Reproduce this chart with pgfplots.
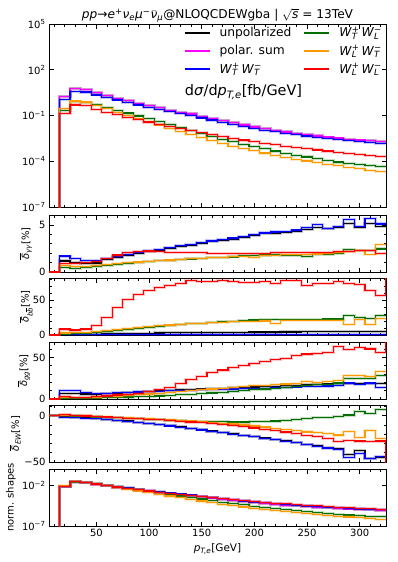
\documentclass[border=0pt]{standalone}
\usepackage{fontspec}
\setmainfont{DejaVu Sans}
\usepackage{pgfplots}
\pgfplotsset{compat=1.18}
\usepackage{pgfplotstable}

\definecolor{cU}{RGB}{0,0,0}
\definecolor{cS}{RGB}{255,0,255}
\definecolor{cTT}{RGB}{0,0,255}
\definecolor{cTL}{RGB}{0,110,0}
\definecolor{cLT}{RGB}{255,155,0}
\definecolor{cLL}{RGB}{255,0,0}

\newcommand{\supsub}[2]{\setbox0\hbox{\textsuperscript{#1}}\setbox2\hbox{\textsubscript{\itshape #2}}\ifdim\wd0>\wd2 \rlap{\box2}\box0\else\rlap{\box0}\box2\fi}
\newcommand{\WW}[4]{\textit{W}\supsub{#1}{#2}\,\textit{W}\supsub{#3}{#4}}
\newcommand{\dbar}{\ensuremath{\overline{\mbox{\itshape δ}}}}

% main distribution dsigma/dpT [fb/GeV], left bin edges
\pgfplotstableread{
x   U       S       TT      TL      LT      LL
5   1e-9    1e-9    1e-9    1e-9    1e-9    1e-9
15  1.74    1.74    1.17    0.224   0.288   0.135
25  6.03    6.03    3.55    0.851   0.891   0.490
35  5.25    5.25    3.47    0.759   0.759   0.437
45  3.09    3.09    2.24    0.537   0.468   0.263
55  2.04    2.04    1.55    0.347   0.275   0.166
65  1.38    1.38    1.05    0.224   0.166   0.112
75  0.933   0.933   0.724   0.145   0.102   0.0776
85  0.631   0.631   0.490   0.0933  0.0631  0.0525
95  0.437   0.437   0.339   0.0603  0.0389  0.0372
105 0.316   0.316   0.245   0.0389  0.0240  0.0269
115 0.224   0.224   0.174   0.0251  0.0148  0.0200
125 0.166   0.166   0.129   0.0162  0.00912 0.0148
135 0.126   0.126   0.0977  0.0105  0.00575 0.0110
145 0.0891  0.0891  0.0692  0.00676 0.00363 0.00794
155 0.0646  0.0646  0.0501  0.00427 0.00229 0.00575
165 0.0468  0.0468  0.0363  0.00282 0.00145 0.00427
175 0.0339  0.0339  0.0263  0.00191 9.77e-4 0.00324
185 0.0240  0.0240  0.0186  0.00132 6.76e-4 0.00245
195 0.0178  0.0178  0.0138  9.12e-4 4.79e-4 0.00191
205 0.0138  0.0138  0.0110  6.46e-4 3.47e-4 0.00151
215 0.0107  0.0107  0.00851 4.68e-4 2.51e-4 0.00120
225 0.00832 0.00832 0.00661 3.39e-4 1.86e-4 9.77e-4
235 0.00676 0.00676 0.00537 2.51e-4 1.38e-4 7.94e-4
245 0.00562 0.00562 0.00447 1.91e-4 1.05e-4 6.61e-4
255 0.00457 0.00457 0.00363 1.45e-4 8.13e-5 5.50e-4
265 0.00389 0.00389 0.00309 1.12e-4 6.31e-5 4.68e-4
275 0.00331 0.00331 0.00263 8.91e-5 5.01e-5 3.89e-4
285 0.00282 0.00282 0.00224 7.24e-5 3.98e-5 3.31e-4
295 0.00245 0.00245 0.00195 6.03e-5 3.24e-5 2.82e-4
305 0.00219 0.00219 0.00174 5.13e-5 2.63e-5 2.40e-4
315 0.00191 0.00191 0.00151 4.37e-5 2.09e-5 2.00e-4
325 0.00191 0.00191 0.00151 4.37e-5 2.09e-5 2.00e-4
}\tmain

% normalised shapes [1/GeV]
\pgfplotstableread{
x   U       S       TT      TL      LT      LL
5   1e-9    1e-9    1e-9    1e-9    1e-9    1e-9
15  7.59e-3 7.59e-3 7.59e-3 6.76e-3 9.33e-3 7.24e-3
25  2.63e-2 2.63e-2 2.29e-2 2.57e-2 2.88e-2 2.63e-2
35  2.29e-2 2.29e-2 2.24e-2 2.29e-2 2.45e-2 2.34e-2
45  1.35e-2 1.35e-2 1.45e-2 1.62e-2 1.51e-2 1.41e-2
55  8.91e-3 8.91e-3 1.00e-2 1.05e-2 8.91e-3 8.91e-3
65  6.03e-3 6.03e-3 6.76e-3 6.76e-3 5.37e-3 6.03e-3
75  4.07e-3 4.07e-3 4.68e-3 4.37e-3 3.31e-3 4.17e-3
85  2.75e-3 2.75e-3 3.16e-3 2.82e-3 2.04e-3 2.82e-3
95  1.91e-3 1.91e-3 2.19e-3 1.82e-3 1.26e-3 2.00e-3
105 1.38e-3 1.38e-3 1.58e-3 1.17e-3 7.76e-4 1.45e-3
115 9.77e-4 9.77e-4 1.12e-3 7.59e-4 4.79e-4 1.07e-3
125 7.24e-4 7.24e-4 8.32e-4 4.90e-4 2.95e-4 7.94e-4
135 5.50e-4 5.50e-4 6.31e-4 3.16e-4 1.86e-4 5.89e-4
145 3.89e-4 3.89e-4 4.47e-4 2.04e-4 1.17e-4 4.27e-4
155 2.82e-4 2.82e-4 3.24e-4 1.29e-4 7.41e-5 3.09e-4
165 2.04e-4 2.04e-4 2.34e-4 8.51e-5 4.68e-5 2.29e-4
175 1.48e-4 1.48e-4 1.70e-4 5.75e-5 3.16e-5 1.74e-4
185 1.05e-4 1.05e-4 1.20e-4 3.98e-5 2.19e-5 1.32e-4
195 7.76e-5 7.76e-5 8.91e-5 2.75e-5 1.55e-5 1.02e-4
205 6.03e-5 6.03e-5 7.08e-5 1.95e-5 1.12e-5 8.13e-5
215 4.68e-5 4.68e-5 5.50e-5 1.41e-5 8.13e-6 6.46e-5
225 3.63e-5 3.63e-5 4.27e-5 1.02e-5 6.03e-6 5.25e-5
235 2.95e-5 2.95e-5 3.47e-5 7.59e-6 4.47e-6 4.27e-5
245 2.45e-5 2.45e-5 2.88e-5 5.75e-6 3.39e-6 3.55e-5
255 2.00e-5 2.00e-5 2.34e-5 4.37e-6 2.63e-6 2.95e-5
265 1.70e-5 1.70e-5 2.00e-5 3.39e-6 2.04e-6 2.51e-5
275 1.45e-5 1.45e-5 1.70e-5 2.69e-6 1.62e-6 2.09e-5
285 1.23e-5 1.23e-5 1.45e-5 2.19e-6 1.29e-6 1.78e-5
295 1.07e-5 1.07e-5 1.26e-5 1.82e-6 1.05e-6 1.51e-5
305 9.55e-6 9.55e-6 1.12e-5 1.55e-6 8.51e-7 1.29e-5
315 8.32e-6 8.32e-6 9.77e-6 1.32e-6 6.76e-7 1.07e-5
325 8.32e-6 8.32e-6 9.77e-6 1.32e-6 6.76e-7 1.07e-5
}\tshape

% delta_gamma gamma [%]
\pgfplotstableread{
x   U     TT    TL    LT    LL
5   0     0     0     0     0
15  1.17  1.69  0.45  0.67  0.91
25  1.02  1.45  0.38  0.60  0.91
35  0.91  1.24  0.45  0.62  1.00
45  0.95  1.24  0.60  0.72  1.09
55  1.30  1.45  0.72  0.80  1.45
65  1.55  1.63  0.83  0.90  1.80
75  1.80  1.87  0.93  0.98  2.05
85  2.00  2.08  1.02  1.06  2.20
95  2.15  2.25  1.10  1.13  2.22
105 2.32  2.42  1.18  1.20  2.15
115 2.50  2.60  1.25  1.27  2.10
125 2.68  2.78  1.32  1.34  2.08
135 2.85  2.95  1.39  1.41  2.05
145 3.05  3.15  1.45  1.47  2.05
155 3.20  3.30  1.50  1.53  2.00
165 3.35  3.45  1.56  1.58  1.98
175 3.50  3.60  1.60  1.63  1.98
185 3.68  3.78  1.70  1.67  1.98
195 3.85  3.95  1.75  1.55  2.00
205 4.05  4.15  1.80  1.75  1.95
215 4.10  4.25  1.85  1.78  2.05
225 4.20  4.30  1.80  1.82  2.05
235 4.30  4.45  1.75  1.85  2.10
245 4.55  4.70  1.62  1.88  2.10
255 4.70  5.04  1.90  1.92  2.05
265 4.60  4.62  1.85  1.95  2.10
275 4.70  4.79  1.95  2.05  2.15
285 5.18  5.60  2.40  2.15  2.20
295 4.76  4.85  2.30  2.30  2.30
305 5.18  5.67  2.30  1.90  2.30
315 4.83  5.10  2.45  2.95  1.95
325 4.83  5.10  2.45  2.95  1.95
}\tyy

% delta_b bbar [%]
\pgfplotstableread{
x   U     TT    TL    LT    LL
5   0     0     0     0     0
15  0.5   0.3   1.5   3.0   8.5
25  0.8   0.4   1.8   3.5   7.1
35  1.0   0.5   2.5   4.0   8.5
45  1.3   0.5   3.5   5.0   13.5
55  1.6   0.6   5.0   6.3   24.9
65  1.9   0.6   6.5   7.6   39.1
75  2.2   0.7   8.0   9.0   51.4
85  2.5   0.7   9.5   10.5  58.5
95  2.7   0.8   11.0  12.0  64.6
105 2.9   0.8   12.3  13.2  67.9
115 3.1   0.9   13.5  14.3  71.3
125 3.3   0.9   14.8  15.3  73.7
135 3.5   1.0   16.0  16.2  78.4
145 3.6   1.0   17.0  17.0  76.4
155 3.8   1.0   18.0  17.7  77.4
165 3.9   1.1   19.0  18.3  77.9
175 4.0   1.1   20.0  19.0  76.9
185 4.1   1.1   20.7  19.5  76.0
195 4.2   1.2   21.5  19.8  76.0
205 4.3   1.2   22.0  20.2  77.0
215 4.3   1.2   22.3  17.0  74.6
225 4.4   1.2   22.5  20.5  78.9
235 4.4   1.3   22.6  21.0  78.4
245 4.5   1.3   22.0  21.0  71.3
255 4.5   1.3   22.5  20.5  74.1
265 4.6   1.3   23.0  21.0  73.7
275 4.6   1.3   23.0  21.0  76.4
285 4.7   1.3   28.3  15.6  74.1
295 4.7   1.3   25.0  21.8  72.2
305 4.7   1.3   24.0  15.6  63.7
315 4.7   1.3   28.3  24.0  57.0
325 4.7   1.3   28.3  24.0  200
}\tbb

% delta_gg [%]
\pgfplotstableread{
x   U     TT    TL    LT    LL
5   0     0     0     0     0
15  6.6   10.2  1.0   2.0   2.9
25  6.2   9.8   0.8   1.5   2.0
35  6.0   8.2   1.0   1.8   2.0
45  5.8   7.0   1.3   2.2   2.9
55  6.2   7.0   1.6   2.8   3.7
65  7.0   7.8   2.0   3.5   4.9
75  7.5   8.0   2.3   4.2   5.7
85  8.2   8.5   2.7   5.0   7.0
95  9.0   9.0   3.2   6.0   8.6
105 9.7   9.5   3.7   7.0   11.9
115 10.3  10.0  4.3   8.0   14.3
125 11.0  10.3  5.0   9.0   18.4
135 11.5  10.6  5.7   10.0  23.3
145 12.0  11.0  6.5   11.0  27.4
155 12.5  11.3  7.3   12.0  31.5
165 13.0  11.6  8.2   13.0  34.8
175 13.5  12.0  9.2   14.0  37.6
185 14.0  12.3  10.2  15.0  40.5
195 14.5  12.6  11.0  15.8  43.0
205 15.0  13.0  12.0  16.5  44.6
215 15.5  13.5  13.0  17.2  47.9
225 16.0  14.0  14.0  18.0  48.7
235 16.5  14.5  15.0  18.8  52.0
245 17.0  15.0  16.0  21.0  54.0
255 17.5  15.3  17.2  20.0  54.9
265 18.0  15.6  17.2  21.0  56.1
275 18.5  16.0  19.2  22.5  63.5
285 18.4  19.2  24.2  28.0  59.4
295 18.5  17.6  24.2  28.0  62.3
305 18.5  19.2  25.0  27.4  60.2
315 19.0  13.5  28.2  33.5  56.1
325 19.0  13.5  28.2  33.5  200
}\tgg

% delta_EW [%]
\pgfplotstableread{
x   U      TT     TL    LT     LL
5   0      0      0     0      0
15  -1.5   -1.8   0.0   0.5    0.7
25  -2.0   -2.3   -0.5  0.0    0.0
35  -2.6   -2.9   -1.0  -0.4   -0.5
45  -3.3   -3.6   -1.5  -0.9   -1.0
55  -4.1   -4.4   -2.0  -1.4   -1.6
65  -5.0   -5.3   -2.5  -1.9   -2.2
75  -6.0   -6.3   -3.0  -2.4   -2.8
85  -7.1   -7.4   -3.5  -2.9   -3.4
95  -8.3   -8.6   -4.0  -3.4   -4.0
105 -9.6   -9.9   -4.5  -4.0   -4.7
115 -10.9  -11.2  -5.0  -4.6   -5.4
125 -12.3  -12.6  -5.5  -5.2   -6.2
135 -13.7  -14.0  -6.0  -5.9   -7.0
145 -15.2  -15.5  -6.3  -6.6   -7.9
155 -16.7  -17.0  -6.6  -7.4   -8.8
165 -18.2  -18.5  -6.8  -8.2   -9.8
175 -19.7  -20.0  -7.0  -9.1   -10.9
185 -21.2  -21.5  -7.0  -10.1  -12.1
195 -22.7  -23.0  -6.8  -11.2  -13.4
205 -24.2  -24.5  -6.5  -12.4  -14.8
215 -25.7  -26.0  -6.0  -13.6  -16.3
225 -27.4  -27.7  -5.3  -15.0  -17.8
235 -29.0  -29.4  -4.5  -16.3  -19.4
245 -30.8  -31.2  -3.0  -17.7  -21.2
255 -32.5  -33.0  -2.5  -18.0  -23.0
265 -34.0  -35.0  -2.0  -19.3  -25.0
275 -35.5  -36.5  -1.3  -21.0  -27.7
285 -41.5  -45.3  0.5   -17.0  -27.0
295 -37.6  -41.0  4.3   -24.0  -27.5
305 -46.0  -46.0  1.8   -16.5  -27.7
315 -45.0  -44.5  6.8   -25.0  -27.5
325 -45.0  -44.5  6.8   -25.0  -200
}\tew

\pgfplotsset{
  panel/.style={
    scale only axis, width=337bp, xmin=5, xmax=325,
    xtick={50,100,150,200,250,300}, minor xtick={10,20,...,320},
    xticklabels={},
    tick align=inside,
    major tick length=4.5bp, minor tick length=2.5bp,
    axis line style={line width=0.8bp},
    every tick/.style={black, line width=0.6bp},
    ticklabel style={font=\fontsize{10}{12}\selectfont},
    ylabel style={font=\fontsize{10}{12}\selectfont, at={(rel axis cs:0,0.5)}, anchor=center},
    yminorticks=false,
  },
  ser/.style={const plot mark left, no marks, line width=1.2pt, forget plot,
    preaction={draw, line width=3pt, opacity=0.22}},
}

\begin{document}
\begin{tikzpicture}
\useasboundingbox (0,0) rectangle (398bp,-562bp);

\node[font=\fontsize{12.2}{14}\selectfont] at (217.5bp,-15.5bp)
  {\textit{pp}→\textit{e}\textsuperscript{+}\textit{ν}\textsubscript{\itshape e}\textit{μ}\textsuperscript{−}\ensuremath{\bar{\mbox{\itshape ν}}}\textsubscript{\itshape μ}@NLOQCDEWgba | \ensuremath{\sqrt{\mbox{\itshape s}}} = 13TeV};

% ---------- main panel
\begin{axis}[panel, at={(49bp,-24bp)}, anchor=north west, height=183bp,
  ymode=log, ymin=1e-7, ymax=1e5,
  ytick={1e-7,1e-4,1e-1,1e2,1e5},
  yticklabels={10\textsuperscript{−7},10\textsuperscript{−4},10\textsuperscript{−1},10\textsuperscript{2},10\textsuperscript{5}},
  legend columns=2, legend cell align=left,
  legend style={at={(rel axis cs:1,1)}, anchor=north east, xshift=-1bp, yshift=0bp, draw=none, fill=none,
    font=\fontsize{12.3}{14}\selectfont, row sep=3bp, inner sep=1bp,
    /tikz/every odd column/.append style={column sep=7bp},
    /tikz/every even column/.append style={column sep=10bp}},
  legend image code/.code={\draw[line width=2pt,#1] (0bp,0bp) -- (25bp,0bp);},
]
\addlegendimage{color=cU}\addlegendentry{unpolarized}
\addlegendimage{color=cTL}\addlegendentry{\WW{+}{T}{−}{L}}
\addlegendimage{color=cS}\addlegendentry{polar. sum}
\addlegendimage{color=cLT}\addlegendentry{\WW{+}{L}{−}{T}}
\addlegendimage{color=cTT}\addlegendentry{\WW{+}{T}{−}{T}}
\addlegendimage{color=cLL}\addlegendentry{\WW{+}{L}{−}{L}}
\addplot[ser, cU] table[x=x, y=U] {\tmain};
\addplot[ser, cS] table[x=x, y=S] {\tmain};
\addplot[ser, cTT] table[x=x, y=TT] {\tmain};
\addplot[ser, cTL] table[x=x, y=TL] {\tmain};
\addplot[ser, cLT] table[x=x, y=LT] {\tmain};
\addplot[ser, cLL] table[x=x, y=LL] {\tmain};
\node[anchor=west, font=\fontsize{14.5}{17}\selectfont] at (rel axis cs:0.393,0.628)
  {d\textit{σ}/d\textit{p}\textsubscript{\itshape T,e}[fb/GeV]};
\end{axis}

% ---------- gamma gamma
\begin{axis}[panel, at={(49bp,-215bp)}, anchor=north west, height=57bp,
  ymin=0, ymax=6.05, ytick={0,5}, yticklabels={0,5}, minor ytick={1,2,3,4,6}, yminorticks=true,
  ylabel={\dbar\textsubscript{\itshape γγ}[\%]}, ylabel style={yshift=23bp}]
\addplot[ser, cU] table[x=x, y=U] {\tyy};
\addplot[ser, cTT] table[x=x, y=TT] {\tyy};
\addplot[ser, cTL] table[x=x, y=TL] {\tyy};
\addplot[ser, cLT] table[x=x, y=LT] {\tyy};
\addplot[ser, cLL] table[x=x, y=LL] {\tyy};
\end{axis}

% ---------- b bbar
\begin{axis}[panel, at={(49bp,-278bp)}, anchor=north west, height=57bp,
  ymin=0, ymax=82, ytick={0,50}, yticklabels={0,50}, minor ytick={10,20,30,40,60,70,80}, yminorticks=true,
  ylabel={\dbar\textsubscript{\itshape b\ensuremath{\overline{\mbox{\itshape b}}}}[\%]}, ylabel style={yshift=23bp}]
\addplot[ser, cU] table[x=x, y=U] {\tbb};
\addplot[ser, cTT] table[x=x, y=TT] {\tbb};
\addplot[ser, cTL] table[x=x, y=TL] {\tbb};
\addplot[ser, cLT] table[x=x, y=LT] {\tbb};
\addplot[ser, cLL] table[x=x, y=LL] {\tbb};
\end{axis}

% ---------- gg
\begin{axis}[panel, at={(49bp,-342bp)}, anchor=north west, height=57bp,
  ymin=0, ymax=68.5, ytick={0,50}, yticklabels={0,50}, minor ytick={10,20,30,40,60}, yminorticks=true,
  ylabel={\dbar\textsubscript{\itshape gg}[\%]}, ylabel style={yshift=25bp}]
\addplot[ser, cU] table[x=x, y=U] {\tgg};
\addplot[ser, cTT] table[x=x, y=TT] {\tgg};
\addplot[ser, cTL] table[x=x, y=TL] {\tgg};
\addplot[ser, cLT] table[x=x, y=LT] {\tgg};
\addplot[ser, cLL] table[x=x, y=LL] {\tgg};
\end{axis}

% ---------- EW
\begin{axis}[panel, at={(49bp,-405bp)}, anchor=north west, height=57bp,
  ymin=-50, ymax=11.3, ytick={-50,0}, yticklabels={−50,0}, minor ytick={-40,-30,-20,-10,10}, yminorticks=true,
  ylabel={\dbar\textsubscript{\itshape EW}[\%]}, ylabel style={yshift=34bp}]
\addplot[ser, cU] table[x=x, y=U] {\tew};
\addplot[ser, cTT] table[x=x, y=TT] {\tew};
\addplot[ser, cTL] table[x=x, y=TL] {\tew};
\addplot[ser, cLT] table[x=x, y=LT] {\tew};
\addplot[ser, cLL] table[x=x, y=LL] {\tew};
\end{axis}

% ---------- normalised shapes
\begin{axis}[panel, at={(49bp,-469bp)}, anchor=north west, height=57bp,
  ymode=log, ymin=1e-7, ymax=1,
  ytick={1e-7,1e-2}, yticklabels={10\textsuperscript{−7},10\textsuperscript{−2}},
  xticklabels={50,100,150,200,250,300},
  ylabel={norm. shapes}, ylabel style={yshift=38bp},
  xlabel={\textit{p}\textsubscript{\itshape T,e}[GeV]},
  xlabel style={font=\fontsize{10.5}{12}\selectfont, at={(rel axis cs:0.5,0)}, anchor=center, yshift=-23bp}]
\addplot[ser, cU] table[x=x, y=U] {\tshape};
\addplot[ser, cS] table[x=x, y=S] {\tshape};
\addplot[ser, cTT] table[x=x, y=TT] {\tshape};
\addplot[ser, cTL] table[x=x, y=TL] {\tshape};
\addplot[ser, cLT] table[x=x, y=LT] {\tshape};
\addplot[ser, cLL] table[x=x, y=LL] {\tshape};
\end{axis}
\end{tikzpicture}
\end{document}
